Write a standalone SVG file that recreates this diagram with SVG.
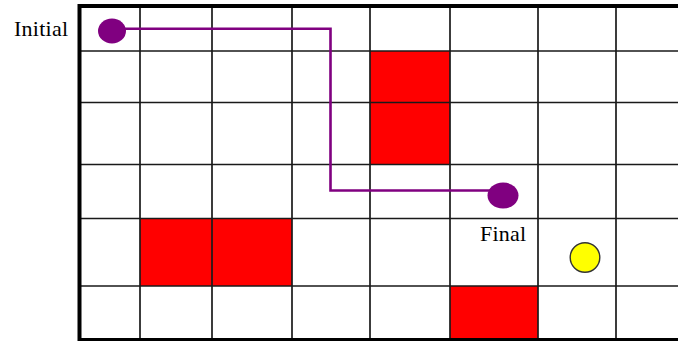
<svg xmlns="http://www.w3.org/2000/svg" width="678" height="341" viewBox="0 0 678 341">
<style>
.cell{fill:#ff0000}
.grid{stroke:#1a1a1a;stroke-width:1.7;fill:none}
.border{stroke:#000;fill:none}
.path{stroke:#800080;stroke-width:2.6;fill:none}
.dot{fill:#800080}
.lbl{font-family:"Liberation Serif","Times New Roman",serif;font-size:22px;fill:#000}
</style>
<rect width="678" height="341" fill="#fff"/>
<g id="obstacles">
<rect class="cell" x="370" y="51" width="80" height="113.5"/>
<rect class="cell" x="140" y="218.5" width="152" height="67.5"/>
<rect class="cell" x="450" y="286" width="88" height="53"/>
</g>
<g id="grid">
<path class="grid" d="M140 6V341M212 6V341M292 6V341M370 6V341M450 6V341M538 6V341M616 6V341"/>
<path class="grid" d="M80 51H678M80 102.5H678M80 164.5H678M80 218.5H678M80 286H678"/>
<path class="border" stroke-width="4" d="M79.5 4V341M78 6H678"/>
<path class="border" stroke-width="3" d="M78 339.5H678"/>
</g>
<g id="connectors">
<path class="path" d="M112 28.8H330.5V190.5H500"/>
</g>
<g id="initial">
<ellipse class="dot" cx="112" cy="31" rx="14" ry="12.5"/>
<text class="lbl" x="14" y="35.5" textLength="54" lengthAdjust="spacing">Initial</text>
</g>
<g id="final">
<ellipse class="dot" cx="503" cy="195.5" rx="15.5" ry="13"/>
<text class="lbl" x="480" y="240.5" textLength="46" lengthAdjust="spacing">Final</text>
</g>
<g id="goal">
<circle cx="585" cy="257.5" r="14.8" fill="#ffff00" stroke="#333" stroke-width="1.4"/>
</g>
</svg>
